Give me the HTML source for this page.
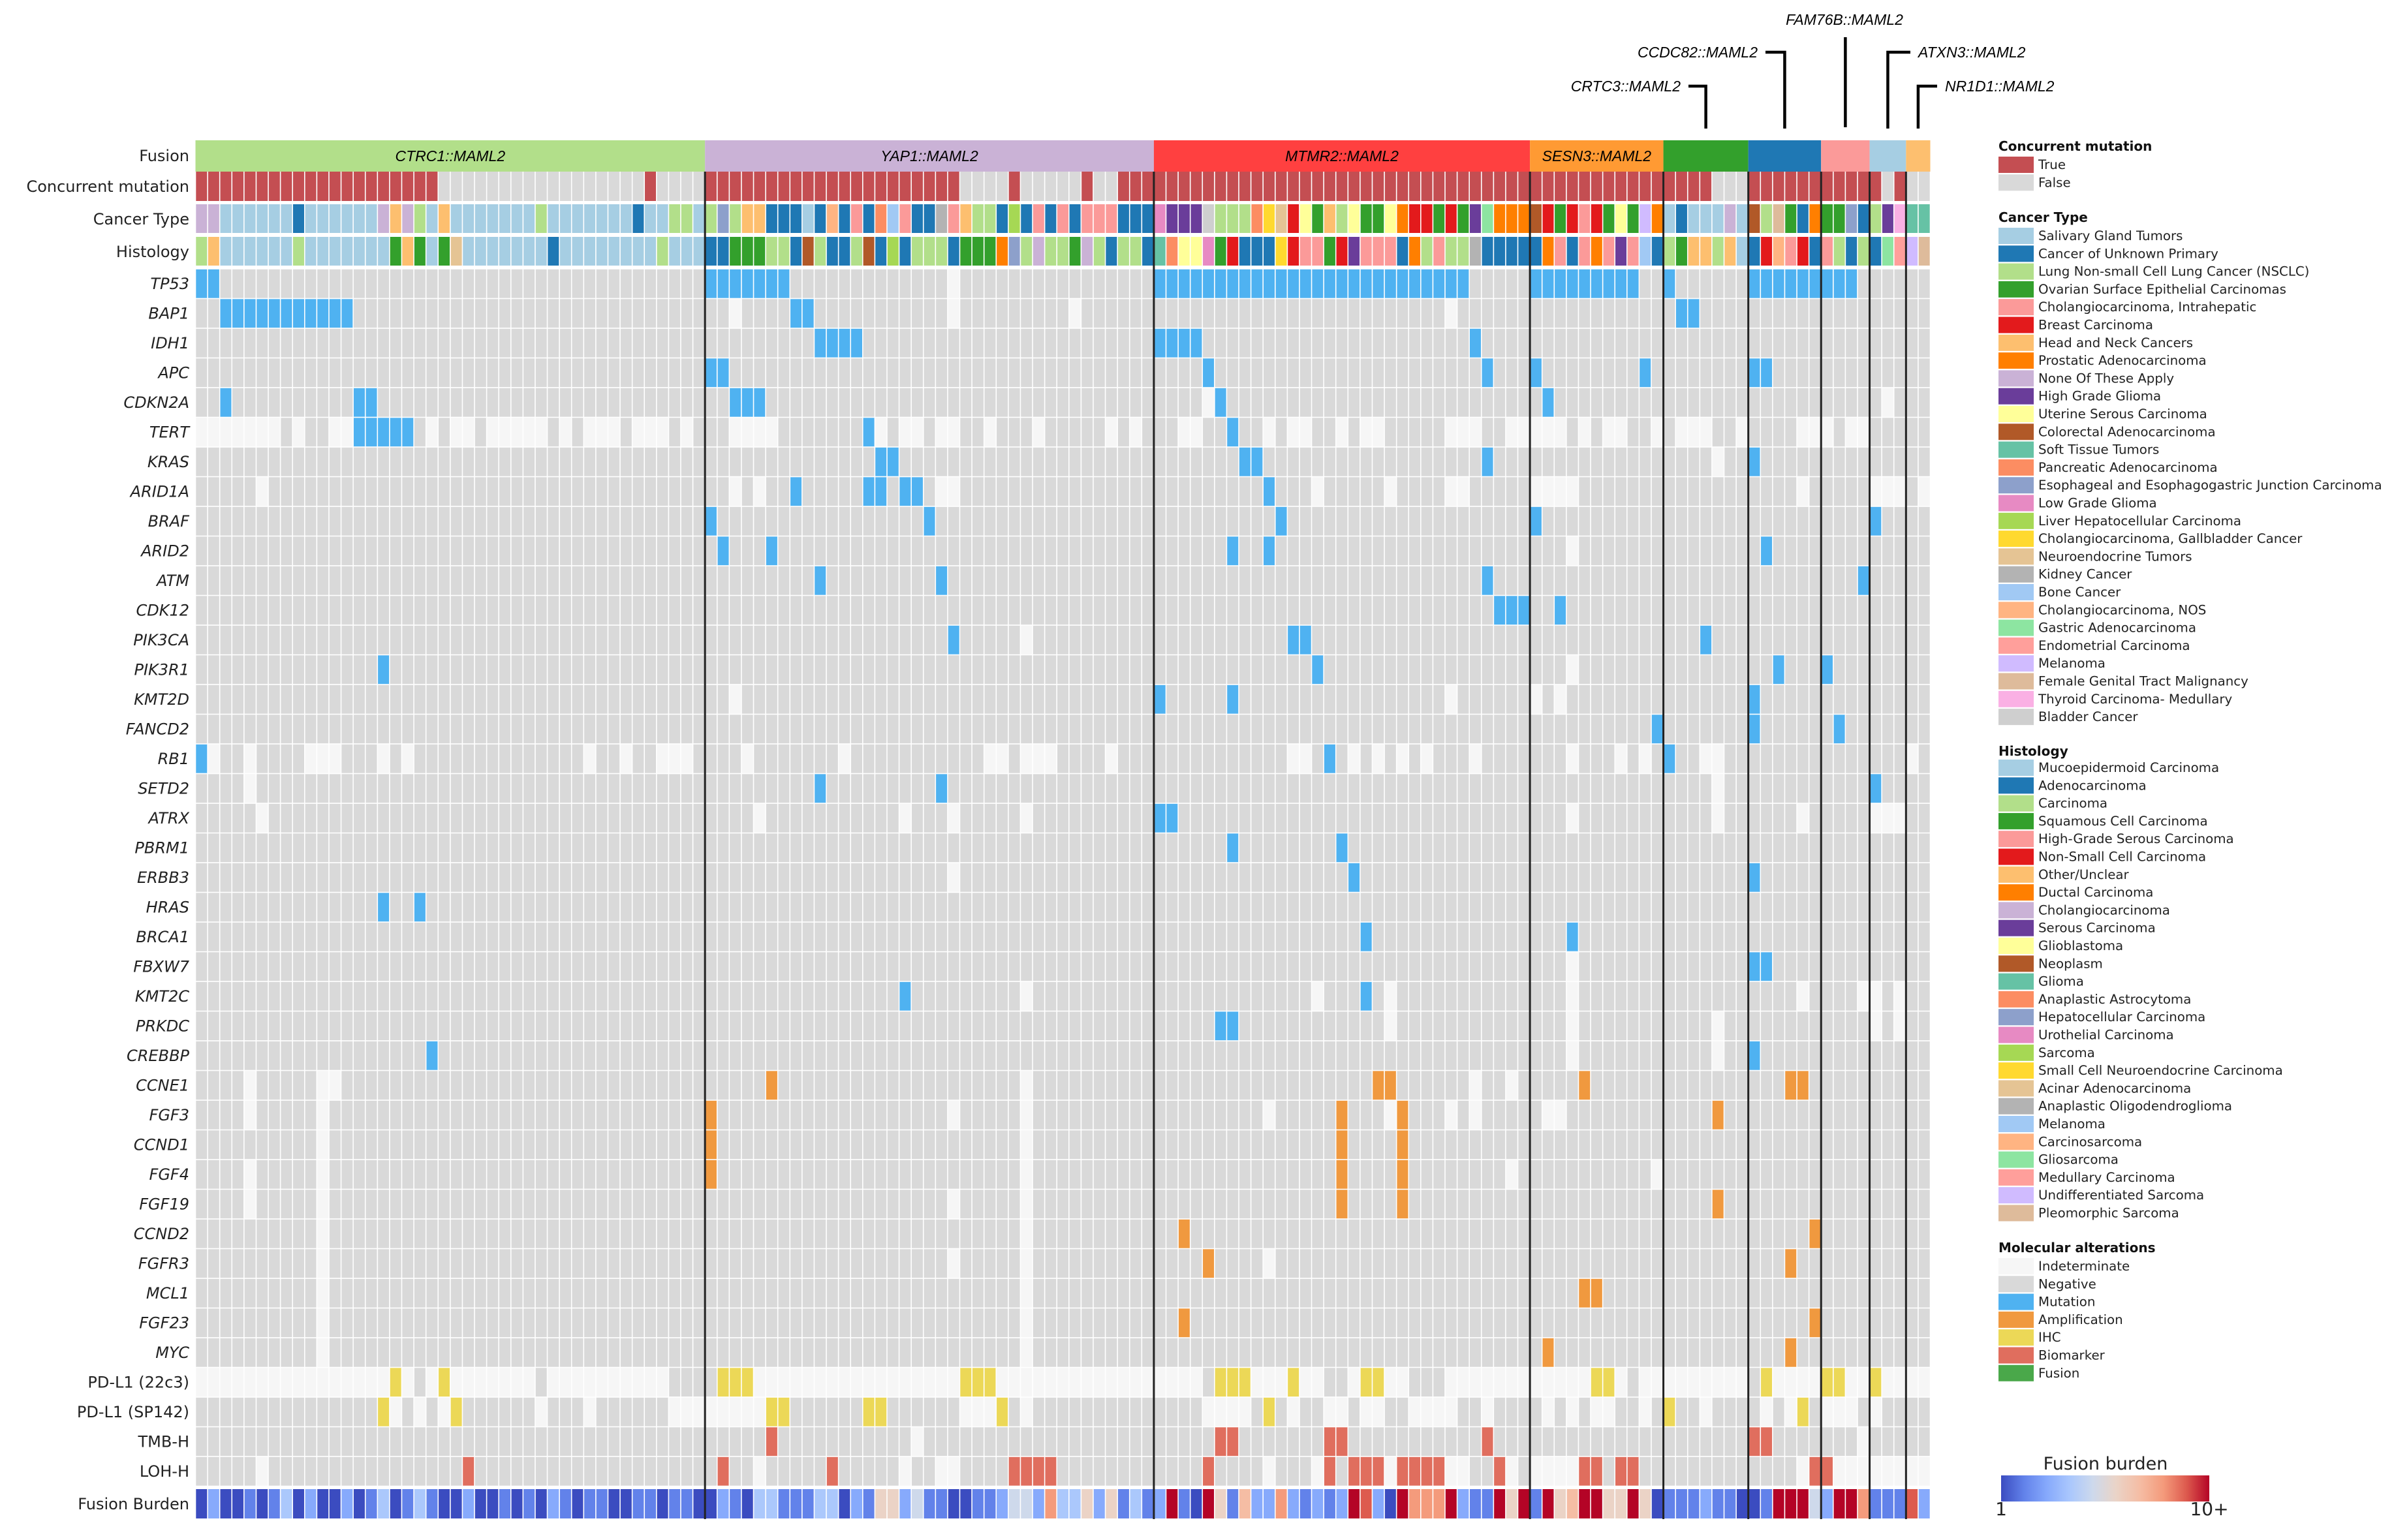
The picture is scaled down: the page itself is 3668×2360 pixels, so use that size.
<!DOCTYPE html>
<html><head><meta charset="utf-8"><title>MAML2 fusion oncoprint</title>
<style>
html,body{margin:0;padding:0;background:#fff;}
svg{display:block;font-family:"DejaVu Sans","Liberation Sans",sans-serif;}
</style></head>
<body>
<svg id="chart" xmlns="http://www.w3.org/2000/svg" width="3668" height="2360" viewBox="0 0 3668 2360">
<rect x="0" y="0" width="3668" height="2360" fill="#ffffff"/>
<g id="grid"></g>
<g id="labels"></g>
<g id="callouts"></g>
<g id="legend"></g>
</svg>
<script>
// ---------- DATA ----------
const nCols = 143;
const fusionNames = ["CTRC1::MAML2","YAP1::MAML2","MTMR2::MAML2","SESN3::MAML2","CRTC3::MAML2","CCDC82::MAML2","FAM76B::MAML2","ATXN3::MAML2","NR1D1::MAML2"];
const fusionCounts = [42,37,31,11,7,6,4,3,2];
const fusionColors = ["#b2df8a","#cab2d6","#ff4040","#ff9a33","#33a02c","#1f78b4","#fb9a99","#a6cee3","#fdbf6f"];
const concurrentTrue = [0,1,2,3,4,5,6,7,8,9,10,11,12,13,14,15,16,17,18,19,37,
 42,43,44,45,46,47,48,49,50,51,52,53,54,55,56,57,58,59,60,61,62,67,73,76,77,78,
 79,80,81,82,83,84,85,86,87,88,89,90,91,92,93,94,95,96,97,98,99,100,101,102,103,104,105,106,107,108,109,
 110,111,112,113,114,115,116,117,118,119,120,121,122,123,124,128,129,130,131,132,133,134,135,136,137,138,140];
const cancerTypes = ["Salivary Gland Tumors","Cancer of Unknown Primary","Lung Non-small Cell Lung Cancer (NSCLC)","Ovarian Surface Epithelial Carcinomas","Cholangiocarcinoma, Intrahepatic","Breast Carcinoma","Head and Neck Cancers","Prostatic Adenocarcinoma","None Of These Apply","High Grade Glioma","Uterine Serous Carcinoma","Colorectal Adenocarcinoma","Soft Tissue Tumors","Pancreatic Adenocarcinoma","Esophageal and Esophagogastric Junction Carcinoma","Low Grade Glioma","Liver Hepatocellular Carcinoma","Cholangiocarcinoma, Gallbladder Cancer","Neuroendocrine Tumors","Kidney Cancer","Bone Cancer","Cholangiocarcinoma, NOS","Gastric Adenocarcinoma","Endometrial Carcinoma","Melanoma","Female Genital Tract Malignancy","Thyroid Carcinoma- Medullary","Bladder Cancer"];
const histologies = ["Mucoepidermoid Carcinoma","Adenocarcinoma","Carcinoma","Squamous Cell Carcinoma","High-Grade Serous Carcinoma","Non-Small Cell Carcinoma","Other/Unclear","Ductal Carcinoma","Cholangiocarcinoma","Serous Carcinoma","Glioblastoma","Neoplasm","Glioma","Anaplastic Astrocytoma","Hepatocellular Carcinoma","Urothelial Carcinoma","Sarcoma","Small Cell Neuroendocrine Carcinoma","Acinar Adenocarcinoma","Anaplastic Oligodendroglioma","Melanoma","Carcinosarcoma","Gliosarcoma","Medullary Carcinoma","Undifferentiated Sarcoma","Pleomorphic Sarcoma"];
const paletteCT = ["#a6cee3","#1f78b4","#b2df8a","#33a02c","#fb9a99","#e31a1c","#fdbf6f","#ff7f00","#cab2d6","#6a3d9a","#ffff99","#b15928","#66c2a5","#fc8d62","#8da0cb","#e78ac3","#a6d854","#ffd92f","#e5c494","#b3b3b3","#a1c9f4","#ffb482","#8de5a1","#ff9f9b","#d0bbff","#debb9b","#fab0e4","#cfcfcf"];
const cancerCodes = "iiaaaaaabaaaaaaigicagaaaaaaacaaaaaaabaacca"+"cocggbbbabvbebnuebbtegccbqbebebeeebbb"+"pjjjBcccnrsfkdgckddkhffdfdjwhhh"+"lfdfefdkdyh"+"abaaaia"+"lczdbh"+"ddob"+"cjA"+"mm";
const histCodes = "cgaaaaaacaaaaaaadgdadsaaaaaaabaaaaaaaacaaa"+"bbdddccblcbbclbqbcccbdddhociccdicbccb"+"mnkkpdfbbbrfeedfjeeebhcecctbbbb"+"bhebehejeub"+"cdggcga"+"bfvefb"+"ecbc"+"bwx"+"yz";
const genes = ["TP53","BAP1","IDH1","APC","CDKN2A","TERT","KRAS","ARID1A","BRAF","ARID2","ATM","CDK12","PIK3CA","PIK3R1","KMT2D","FANCD2","RB1","SETD2","ATRX","PBRM1","ERBB3","HRAS","BRCA1","FBXW7","KMT2C","PRKDC","CREBBP","CCNE1","FGF3","CCND1","FGF4","FGF19","CCND2","FGFR3","MCL1","FGF23","MYC","PD-L1 (22c3)","PD-L1 (SP142)","TMB-H","LOH-H"];
const italicRows = 37;
const rowDefault = [1,1,1,1,1,1,1,1,1,1,1,1,1,1,1,1,1,1,1,1,1,1,1,1,1,1,1,1,1,1,1,1,1,1,1,1,1,0,1,1,1];
const mutations = {
 TP53:[0,1,42,43,44,45,46,47,48,79,80,81,82,83,84,85,86,87,88,89,90,91,92,93,94,95,96,97,98,99,100,101,102,103,104,110,111,112,113,114,115,116,117,118,121,128,129,130,131,132,133,134,135,136],
 BAP1:[2,3,4,5,6,7,8,9,10,11,12,49,50,122,123],
 IDH1:[51,52,53,54,79,80,81,82,105],
 APC:[42,43,83,106,110,119,128,129],
 CDKN2A:[2,13,14,44,45,46,84,111],
 TERT:[13,14,15,16,17,55,85],
 KRAS:[56,57,86,87,106,128],
 ARID1A:[49,55,56,58,59,88],
 BRAF:[42,60,89,110,138],
 ARID2:[43,47,85,88,129],
 ATM:[51,61,106,137],
 CDK12:[107,108,109,112],
 PIK3CA:[62,90,91,124],
 PIK3R1:[15,92,130,134],
 KMT2D:[79,85,128],
 FANCD2:[120,128,135],
 RB1:[0,93,121],
 SETD2:[51,61,138],
 ATRX:[79,80],
 PBRM1:[85,94],
 ERBB3:[95,128],
 HRAS:[15,18],
 BRCA1:[96,113],
 FBXW7:[128,129],
 KMT2C:[58,96],
 PRKDC:[84,85],
 CREBBP:[19,128]
};
const amplifications = {
 CCNE1:[47,97,98,114,131,132],
 FGF3:[42,94,99,125],
 CCND1:[42,94,99],
 FGF4:[42,94,99],
 FGF19:[94,99,125],
 CCND2:[81,133],
 FGFR3:[83,131],
 MCL1:[114,115],
 FGF23:[81,133],
 MYC:[111,131]
};
const ihcPositive = {
 "PD-L1 (22c3)":[16,20,43,44,45,63,64,65,84,85,86,90,96,97,115,116,129,134,135,138],
 "PD-L1 (SP142)":[15,21,47,48,55,56,66,88,121,132]
};
const biomarkers = {
 "TMB-H":[47,84,85,93,94,106,128,129],
 "LOH-H":[22,43,52,67,68,69,70,83,93,95,96,97,99,100,101,102,107,114,115,117,118,133,134]
};
const negatives = {
 "PD-L1 (22c3)":[18,28,39,40,41,42,83,93,94,100,101,102,118,128]
};
const indeterminate = {
 TP53:[62],
 BAP1:[44,62,72,103],
 CDKN2A:[83,139],
 TERT:[0,1,2,3,4,5,6,8,11,12,19,21,22,24,25,26,27,28,30,32,33,34,36,37,38,40,44,45,46,47,56,58,59,61,62,65,69,75,77,81,82,88,90,91,94,96,97,103,104,105,108,109,110,111,112,114,116,117,120,122,123,124,127,132,133,134,136,137],
 KRAS:[125],
 ARID1A:[5,44,46,61,62,92,98,103,104,110,111,112,113,132,138,139,140,142],
 ARID2:[113],
 PIK3CA:[68],
 PIK3R1:[113],
 KMT2D:[44,103,110,112],
 RB1:[1,4,9,10,11,15,17,32,35,38,39,40,45,53,65,66,68,69,70,75,90,91,95,97,99,101,105,113,117,119,124,125,141],
 SETD2:[4,125],
 ATRX:[5,46,58,62,68,113,125,132,138,139,140],
 ERBB3:[62],
 FBXW7:[113],
 KMT2C:[68,92,98,113,132,137,138,140],
 PRKDC:[98,113,125,138,140],
 CREBBP:[113,125],
 CCNE1:[4,10,11,68,105,108],
 FGF3:[4,10,62,68,88,98,103,105,111,112],
 CCND1:[10,68],
 FGF4:[4,10,68,108,120],
 FGF19:[4,10,62,68],
 CCND2:[10,68],
 FGFR3:[10,62,68,88],
 MCL1:[10,68],
 FGF23:[10,68],
 MYC:[10,68],
 "PD-L1 (SP142)":[16,18,20,28,32,39,40,41,42,43,44,45,46,63,64,65,68,83,84,85,86,90,93,94,96,97,100,101,102,103,106,111,113,115,116,119,124,129,131,134,135,136,138],
 "TMB-H":[59,137],
 "LOH-H":[5,46,58,61,62,88,92,98,103,104,108,110,111,112,113,132,135,136,137,138,139,140,141,142]
};
const fusionBurden = [1,3,1,1,2,1,2,4,1,3,1,1,3,1,2,4,1,2,4,2,1,1,3,1,1,2,1,2,1,3,2,1,2,2,1,1,2,2,1,2,2,1,
 1,3,2,1,4,4,2,2,2,4,4,1,3,2,6,6,3,5,2,2,1,1,2,2,3,5,5,3,8,4,4,6,3,6,2,4,2,
 3,10,2,1,10,6,2,7,3,3,8,3,2,3,2,3,10,9,3,1,10,8,8,8,10,3,2,2,10,6,10,
 2,10,6,7,10,10,6,6,10,6,1,
 2,2,2,3,2,2,1,
 1,2,10,10,10,5,
 3,10,10,8,
 2,2,2,
 9,3];
const altNames = ["Indeterminate","Negative","Mutation","Amplification","IHC","Biomarker","Fusion"];
const altColors = ["#f6f6f6","#d9d9d9","#4fb2f1","#f0993f","#ecd857","#e06e5e","#4aa84a"];
const burdenStops = [[0,"#3b4cc0"],[0.11,"#6282ea"],[0.22,"#86a9fc"],[0.33,"#aac7fd"],[0.44,"#cdd9ec"],[0.55,"#ead4c8"],[0.67,"#f5bca3"],[0.78,"#f49a7b"],[0.89,"#dd5a4e"],[1,"#b40426"]];

// ---------- LAYOUT ----------
const NS = "http://www.w3.org/2000/svg";
const X0 = 299.5, X1 = 2957.5, CW = (X1 - X0) / nCols;
const GENE_TOP = 412, PITCH = 45.5;
const xOf = i => X0 + i * CW;
const yRow = r => GENE_TOP + r * PITCH;
function el(tag, attrs, parent) {
  const e = document.createElementNS(NS, tag);
  for (const k in attrs) e.setAttribute(k, attrs[k]);
  parent.appendChild(e);
  return e;
}
function hexToRgb(h){return [parseInt(h.slice(1,3),16),parseInt(h.slice(3,5),16),parseInt(h.slice(5,7),16)];}
function burdenColor(v){
  const t = Math.max(0, Math.min(1, (v - 1) / 9));
  for (let k = 1; k < burdenStops.length; k++) {
    if (t <= burdenStops[k][0]) {
      const a = burdenStops[k-1], b = burdenStops[k];
      const f = (t - a[0]) / (b[0] - a[0]);
      const ca = hexToRgb(a[1]), cb = hexToRgb(b[1]);
      return "rgb(" + ca.map((c, j) => Math.round(c + (cb[j] - c) * f)).join(",") + ")";
    }
  }
  return burdenStops[burdenStops.length-1][1];
}
function codeColor(ch){
  if (!ch) return "#cfcfcf";
  const c = ch.charCodeAt(0);
  const idx = c >= 97 ? c - 97 : c - 65 + 26;
  return paletteCT[idx] || "#cfcfcf";
}

const grid = document.getElementById("grid");
const labels = document.getElementById("labels");
const callouts = document.getElementById("callouts");
const legend = document.getElementById("legend");

const groupStart = [];
{ let s = 0; fusionCounts.forEach(c => { groupStart.push(s); s += c; }); }

fusionCounts.forEach((c, g) => {
  const r = el("rect", {x: xOf(groupStart[g]), y: 215, width: c * CW, height: 48, fill: fusionColors[g]}, grid);
  
  
  if (g < 4) {
    const t = el("text", {x: xOf(groupStart[g]) + c * CW / 2, y: 247, "text-anchor": "middle", "font-size": 23, "font-style": "italic", "font-family": "Liberation Sans, sans-serif", fill: "#000"}, grid);
    t.textContent = fusionNames[g];
    
    
  }
});

function cell(i, y, h, color, name) {
  const r = el("rect", {x: xOf(i) + 0.8, y: y, width: CW - 1.6, height: h, fill: color}, grid);
  
  
  return r;
}
const concSet = new Set(concurrentTrue);
for (let i = 0; i < nCols; i++) cell(i, 263, 45, concSet.has(i) ? "#c44e52" : "#d9d9d9", 'concurrent-mutation-cell');
for (let i = 0; i < nCols; i++) cell(i, 313, 44, codeColor(cancerCodes[i]), 'cancer-type-cell');
for (let i = 0; i < nCols; i++) cell(i, 363, 44, codeColor(histCodes[i]), 'histology-cell');

genes.forEach((g, r) => {
  const state = new Array(nCols).fill(rowDefault[r]);
  (negatives[g] || []).forEach(i => state[i] = 1);
  (indeterminate[g] || []).forEach(i => state[i] = 0);
  (mutations[g] || []).forEach(i => state[i] = 2);
  (amplifications[g] || []).forEach(i => state[i] = 3);
  (ihcPositive[g] || []).forEach(i => state[i] = 4);
  (biomarkers[g] || []).forEach(i => state[i] = 5);
  for (let i = 0; i < nCols; i++) {
    cell(i, yRow(r) + 0.8, PITCH - 1.6, altColors[state[i]], 'alteration-cell-' + g.toLowerCase().replace(/[^a-z0-9]+/g, '-'));
  }
  const t = el("text", {x: 290, y: yRow(r) + PITCH / 2 + 8, "text-anchor": "end", "font-size": 24, fill: "#222", "font-style": r < italicRows ? "italic" : "normal"}, labels);
  t.textContent = g;
  
  
});

fusionBurden.forEach((v, i) => cell(i, 2282, 45, burdenColor(v), 'fusion-burden-cell'));

[["Fusion", 247], ["Concurrent mutation", 294], ["Cancer Type", 344], ["Histology", 394], ["Fusion Burden", 2313]].forEach(([txt, y]) => {
  const t = el("text", {x: 290, y: y, "text-anchor": "end", "font-size": 24, fill: "#222"}, labels);
  t.textContent = txt;
  
  
});

for (let g = 1; g < fusionCounts.length; g++) {
  const x = xOf(groupStart[g]);
  const l = el("line", {x1: x, x2: x, y1: 263, y2: 2328, stroke: "#222", "stroke-width": 3}, grid);
  
  
}

function groupCenter(g){ return xOf(groupStart[g]) + fusionCounts[g] * CW / 2; }
const calloutSpec = [
  {g: 4, ly: 132, side: "left", tx: 2575, ty: 140},
  {g: 5, ly: 80, side: "left", tx: 2693, ty: 88},
  {g: 6, ly: 57, side: "top", tx: 2826, ty: 38},
  {g: 7, ly: 80, side: "right", tx: 2939, ty: 88},
  {g: 8, ly: 132, side: "right", tx: 2980, ty: 140}
];
calloutSpec.forEach(c => {
  const cx = groupCenter(c.g);
  let d;
  if (c.side === "left") d = "M" + (c.tx + 12) + "," + c.ly + " H" + cx + " V197";
  else if (c.side === "right") d = "M" + (c.tx - 12) + "," + c.ly + " H" + cx + " V197";
  else d = "M" + cx + "," + c.ly + " V195";
  const p = el("path", {d: d, fill: "none", stroke: "#000", "stroke-width": 4.5}, callouts);
  
  
  const anchor = c.side === "left" ? "end" : (c.side === "right" ? "start" : "middle");
  const t = el("text", {x: c.tx, y: c.ty, "text-anchor": anchor, "font-size": 23, "font-style": "italic", "font-family": "Liberation Sans, sans-serif", fill: "#000"}, callouts);
  t.textContent = fusionNames[c.g];
  
  
});

const LX = 3062, TX = 3123, LP = 27.3;
function legendTitle(txt, y, name){
  const t = el("text", {x: LX, y: y, "font-size": 20, "font-weight": "bold", fill: "#111"}, legend);
  t.textContent = txt;
  
  
}
function legendEntries(items, colors, top, name){
  items.forEach((txt, k) => {
    const y = top + k * LP;
    const r = el("rect", {x: LX, y: y, width: 54, height: 25, fill: colors[k]}, legend);
    
    
    const t = el("text", {x: TX, y: y + 19, "font-size": 19.8, fill: "#222"}, legend);
    t.textContent = txt;
    
    
  });
}
legendTitle("Concurrent mutation", 231, 'legend-title-concurrent');
legendEntries(["True", "False"], ["#c44e52", "#d9d9d9"], 240, 'legend-entry-concurrent');
legendTitle("Cancer Type", 340, 'legend-title-cancer-type');
legendEntries(cancerTypes, paletteCT, 349, 'legend-entry-cancer-type');
legendTitle("Histology", 1158, 'legend-title-histology');
legendEntries(histologies, paletteCT, 1164, 'legend-entry-histology');
legendTitle("Molecular alterations", 1919, 'legend-title-molecular');
legendEntries(altNames, altColors, 1928, 'legend-entry-molecular');

const defs = el("defs", {}, legend);
const lg = el("linearGradient", {id: "cbgrad", x1: "0", x2: "1", y1: "0", y2: "0"}, defs);
burdenStops.forEach(s => el("stop", {offset: s[0], "stop-color": s[1]}, lg));
const cb = el("rect", {x: 3066, y: 2261, width: 319, height: 40, fill: "url(#cbgrad)"}, legend);


[["Fusion burden", 3226, 2252, 27, "middle"], ["1", 3066, 2322, 28, "middle"], ["10+", 3385, 2322, 28, "middle"]].forEach(([txt, x, y, fs, a]) => {
  const t = el("text", {x: x, y: y, "font-size": fs, "text-anchor": a, fill: "#222"}, legend);
  t.textContent = txt;
  
  
});
</script>
</body></html>
